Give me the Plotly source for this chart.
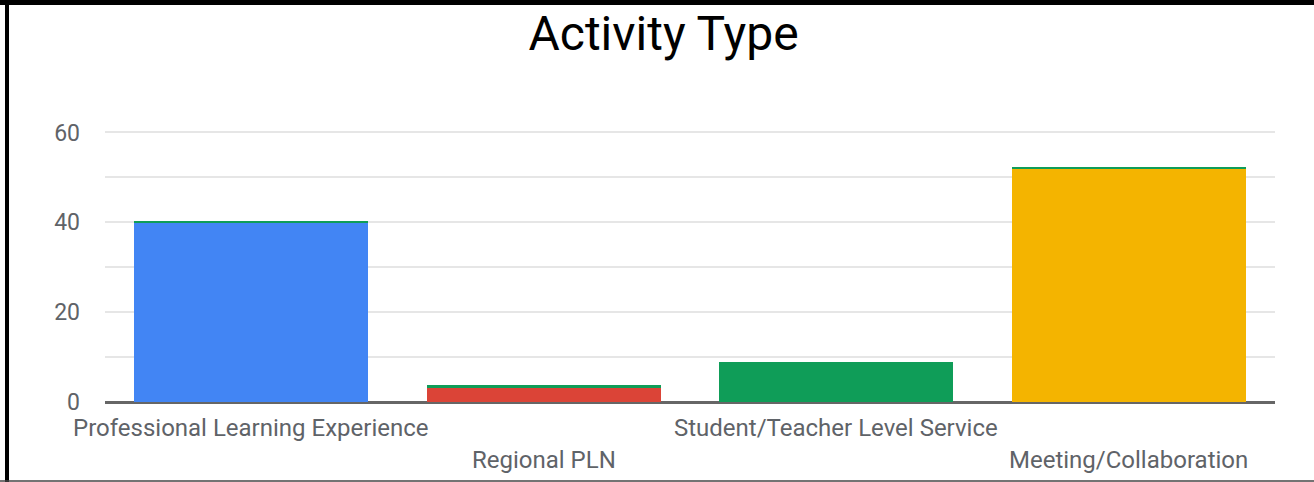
import plotly.graph_objects as go

categories = ["Professional Learning Experience", "Regional PLN",
              "Student/Teacher Level Service", "Meeting/Collaboration"]
values = [40, 3.3, 9, 52]
cap_values = [0.4, 0.4, 0, 0.4]
bar_colors = ["#4285f4", "#db4437", "#0f9d58", "#f4b400"]
cap_color = "#0f9d58"
label_rows = [0, 1, 0, 1]
y_ticks = [0, 20, 40, 60]

W, H = 1314, 482
ML, MR, MT, MB = 105, 39, 128, 80
pw, ph = W - ML - MR, H - MT - MB

def px_x(p):
    return (p - ML) / pw

def px_y(p):
    return (H - MB - p) / ph

fig = go.Figure()
fig.add_trace(go.Bar(x=categories, y=values, marker=dict(color=bar_colors, line=dict(width=0)),
                     showlegend=False))
fig.add_trace(go.Bar(x=categories, y=cap_values, marker=dict(color=cap_color, line=dict(width=0)),
                     showlegend=False))

for cat, row in zip(categories, label_rows):
    fig.add_annotation(x=cat, y=0, xref="x", yref="y", text=cat, showarrow=False,
                       yanchor="middle", yshift=-26 - 32 * row,
                       font=dict(family="Roboto", size=24, color="#5f6368"))

# frame lines
fig.add_shape(type="line", xref="paper", yref="paper", x0=px_x(0), x1=px_x(W),
              y0=px_y(2.5), y1=px_y(2.5), line=dict(color="#000", width=5))
fig.add_shape(type="line", xref="paper", yref="paper", x0=px_x(7), x1=px_x(7),
              y0=px_y(0), y1=px_y(H), line=dict(color="#000", width=4))
fig.add_shape(type="line", xref="paper", yref="paper", x0=px_x(0), x1=px_x(W),
              y0=px_y(481), y1=px_y(481), line=dict(color="#444", width=1.5))

fig.update_layout(
    width=W, height=H,
    margin=dict(l=ML, r=MR, t=MT, b=MB, autoexpand=False),
    paper_bgcolor="white", plot_bgcolor="white",
    barmode="stack", bargap=0.2,
    title=dict(text="Activity Type", x=0.505, xanchor="center", y=1 - 33 / H, yanchor="middle",
               font=dict(family="Roboto", size=48, color="#000")),
    font=dict(family="Roboto", color="#5f6368"),
    xaxis=dict(range=[-0.5, 3.5], showticklabels=False, showgrid=False, zeroline=False,
               showline=False, ticks="", automargin=False),
    yaxis=dict(range=[0, 61], tickvals=y_ticks, ticks="", ticklabelstandoff=24, automargin=False,
               tickfont=dict(family="Roboto", size=23, color="#5f6368"),
               showgrid=True, gridcolor="#e6e6e6", gridwidth=2,
               minor=dict(dtick=10, tick0=0, showgrid=True, gridcolor="#e6e6e6", gridwidth=2),
               zeroline=True, zerolinecolor="#666", zerolinewidth=2.5, showline=False),
)

fig.write_html("out.html", config={"displayModeBar": False},
               post_script="document.body.style.margin='0';")
